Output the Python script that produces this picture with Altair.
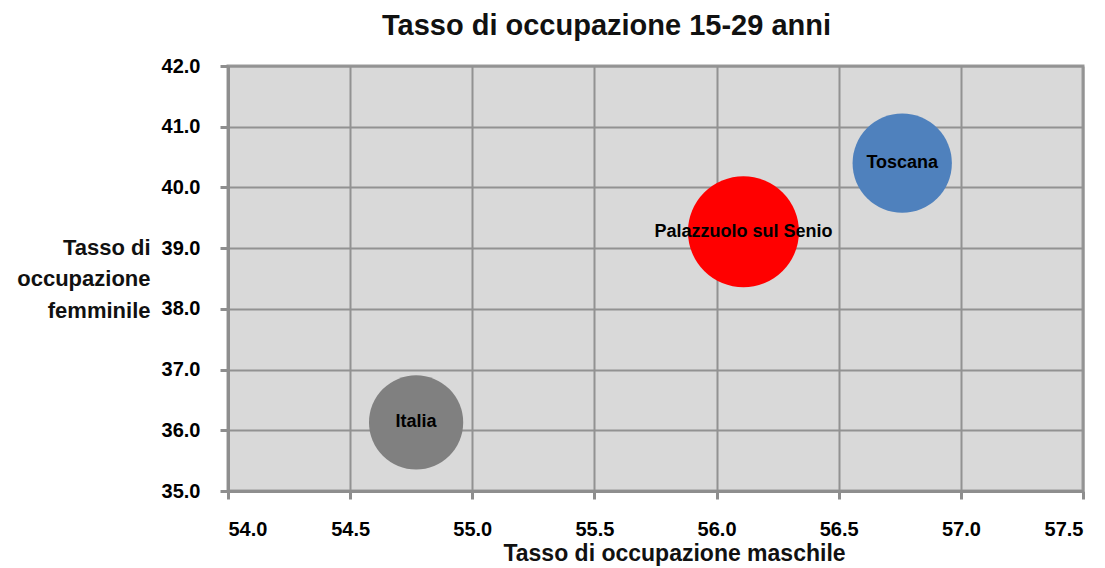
import altair as alt
import pandas as pd

# Employment rate, age 15-29 (%)
areas = ["Italia", "Palazzuolo sul Senio", "Toscana"]
male_rate = [54.77, 56.11, 56.76]
female_rate = [36.13, 39.27, 40.40]
bubble_size = [72, 100, 80]
colors = ["#808080", "#FF0000", "#4F81BD"]

x_ticks = [54.0, 54.5, 55.0, 55.5, 56.0, 56.5, 57.0, 57.5]
y_ticks = [35.0, 36.0, 37.0, 38.0, 39.0, 40.0, 41.0, 42.0]

df = pd.DataFrame({
    "area": areas,
    "maschile": male_rate,
    "femminile": female_rate,
    "size": bubble_size,
})

FONT = "Liberation Sans"

x_enc = alt.X(
    "maschile:Q",
    scale=alt.Scale(domain=[54.0, 57.5], nice=False, zero=False),
    axis=alt.Axis(
        values=x_ticks,
        format=".1f",
        title="Tasso di occupazione  maschile",
        titleX=446,
        titleY=69,
        titleAlign="center",
        titleBaseline="alphabetic",
        titleFontSize=23,
        labelFontSize=20,
        labelPadding=20,
    ),
)
y_enc = alt.Y(
    "femminile:Q",
    scale=alt.Scale(domain=[35.0, 42.0], nice=False, zero=False),
    axis=alt.Axis(
        values=y_ticks,
        format=".1f",
        title=["Tasso di", "occupazione", "femminile"],
        titleAngle=0,
        titleAlign="right",
        titleBaseline="alphabetic",
        titleX=-78,
        titleY=188,
        titleLineHeight=31.5,
        titleFontSize=22,
        labelFontSize=20,
        labelPadding=20,
    ),
)

# circle size is the square of the diameter in px
bubbles = alt.Chart(df).mark_circle(opacity=1).encode(
    x=x_enc,
    y=y_enc,
    size=alt.Size(
        "size:Q",
        scale=alt.Scale(domain=[0, 100], range=[0, 12321]),
        legend=None,
    ),
    color=alt.Color(
        "area:N",
        scale=alt.Scale(domain=areas, range=colors),
        legend=None,
    ),
)

labels = alt.Chart(df).mark_text(
    font=FONT, fontSize=18, fontWeight="bold", color="#000000",
    align="center", baseline="middle",
).encode(
    x="maschile:Q",
    y="femminile:Q",
    text="area:N",
)

chart = (
    alt.layer(bubbles, labels)
    .properties(
        width=855,
        height=425,
        title=alt.TitleParams(
            "Tasso di occupazione 15-29 anni",
            font=FONT,
            fontSize=29,
            fontWeight="bold",
            color="#111111",
            anchor="middle",
            offset=15,
            dx=-49,
        ),
        autosize=alt.AutoSizeParams(type="none"),
        padding={"left": 228, "top": 66, "right": 22, "bottom": 77},
    )
    .configure_view(fill="#D9D9D9", stroke="#9A9A9A", strokeWidth=3)
    .configure_axis(
        labelFont=FONT,
        titleFont=FONT,
        labelFontWeight="bold",
        titleFontWeight="bold",
        labelColor="#000000",
        titleColor="#111111",
        grid=True,
        gridColor="#929292",
        gridWidth=2,
        gridOpacity=1,
        domainColor="#8E8E8E",
        domainWidth=3,
        tickColor="#8E8E8E",
        tickWidth=3,
        tickSize=8,
    )
)

chart.save("out.html", embed_options={"renderer": "svg", "actions": False})
